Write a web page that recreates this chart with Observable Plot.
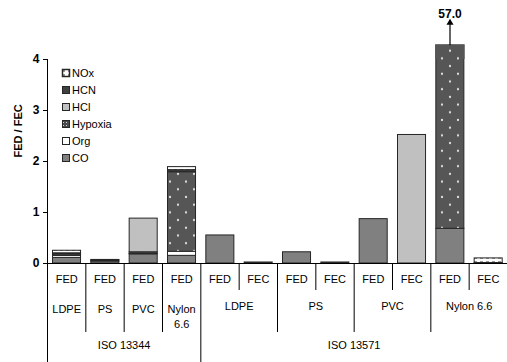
<!DOCTYPE html>
<html><head><meta charset="utf-8">
<script src="https://cdn.jsdelivr.net/npm/d3@7"></script>
<script src="https://cdn.jsdelivr.net/npm/@observablehq/plot@0.6"></script>
<style>
html,body{margin:0;padding:0;background:#fff;}
#chart{position:relative;width:507px;height:362px;}
</style></head><body><div id="chart"></div>
<script>
// ---- data ----
const standard = ["ISO 13344","ISO 13344","ISO 13344","ISO 13344","ISO 13571","ISO 13571","ISO 13571","ISO 13571","ISO 13571","ISO 13571","ISO 13571","ISO 13571"];
const material = ["LDPE","PS","PVC","Nylon 6.6","LDPE","LDPE","PS","PS","PVC","PVC","Nylon 6.6","Nylon 6.6"];
const measure  = ["FED","FED","FED","FED","FED","FEC","FED","FEC","FED","FEC","FED","FEC"];
const componentNames = ["CO","Org","Hypoxia","HCl","HCN","NOx"]; // stacking order, bottom -> top
const legendOrder = ["NOx","HCN","HCl","Hypoxia","Org","CO"];
const CO      = [0.11, 0.04, 0.18, 0.15, 0.55, 0,    0.22, 0,    0.87, 0,    0.68,  0];
const Org     = [0.04, 0,    0.01, 0.08, 0,    0.02, 0,    0.02, 0,    0,    0,     0];
const Hypoxia = [0.03, 0.02, 0.03, 1.56, 0,    0,    0,    0,    0,    0,    56.32, 0];
const HCl     = [0,    0,    0.66, 0,    0,    0,    0,    0,    0,    2.52, 0,     0];
const HCN     = [0.02, 0.01, 0,    0.04, 0,    0,    0,    0,    0,    0,    0,     0.01];
const NOx     = [0.05, 0,    0,    0.06, 0,    0,    0,    0,    0,    0,    0,     0.09];
const yTicks = [0, 1, 2, 3, 4];
const axisMax = 4;          // top of the y axis
const breakTop = 4.27;      // where the off-scale bar is cut
const offScaleLabel = "57.0";
const yLabel = "FED / FEC";

// ---- styling ----
const fills = {CO: "#808080", Org: "#ffffff", Hypoxia: "url(#pat-hyp)", HCl: "#c0c0c0", HCN: "#404040", NOx: "url(#pat-nox)"};
const font = "'Liberation Sans', Arial, sans-serif";
const W = 507, H = 362, mTop = 59, mBottom = 99, mLeft = 47, mRight = 0;
const frameH = H - mTop - mBottom;

// ---- derived tables ----
const series = {CO, Org, Hypoxia, HCl, HCN, NOx};
const cols = measure.map((m, i) => ({i, measure: m, material: material[i], standard: standard[i]}));
const rows = [];
const offScale = [];
cols.forEach(({i}) => {
  let cum = 0;
  componentNames.forEach(c => {
    const v = series[c][i];
    if (!v) return;
    const shown = Math.max(0, Math.min(v, breakTop - cum));
    cum += v;
    if (shown > 0) rows.push({i, comp: c, v: shown, fill: fills[c]});
  });
  if (cum > axisMax) offScale.push({i, total: cum});
});
const groups = [];
cols.forEach(c => {
  const g = groups[groups.length - 1];
  if (g && g.material === c.material && g.standard === c.standard) g.end = c.i + 1;
  else groups.push({material: c.material, standard: c.standard, start: c.i, end: c.i + 1});
});
const stdGroups = [];
cols.forEach(c => {
  const g = stdGroups[stdGroups.length - 1];
  if (g && g.standard === c.standard) g.end = c.i + 1;
  else stdGroups.push({standard: c.standard, start: c.i, end: c.i + 1});
});
const measureSeps = cols.filter(c => c.i > 0 && !groups.some(g => g.start === c.i)).map(c => c.i);
const materialSeps = groups.filter(g => g.start > 0 && !stdGroups.some(s => s.start === g.start)).map(g => g.start);
const stdSeps = stdGroups.map(s => s.start);

const svg = Plot.plot({
  width: W, height: H,
  marginTop: mTop, marginBottom: mBottom, marginLeft: mLeft, marginRight: mRight,
  style: {fontFamily: font, fontSize: "11px", color: "#000", background: "#fff", overflow: "visible"},
  x: {type: "linear", domain: [0, cols.length], axis: null},
  y: {domain: [0, axisMax], axis: null},
  color: {type: "identity"},
  marks: [
    Plot.rectY(rows, Plot.stackY({x1: d => d.i, x2: d => d.i + 1, y: "v", z: "comp", fill: "fill", stroke: "#262626", strokeWidth: 1, insetLeft: 5.5, insetRight: 4.8})),
    Plot.rectY(offScale, {x1: d => d.i, x2: d => d.i + 1, y1: axisMax, y2: breakTop, fill: fills.Hypoxia, insetLeft: 4.8, insetRight: 4.1, insetTop: -1}),
    Plot.ruleX(offScale, {x: d => d.i + 0.5, y1: breakTop, y2: breakTop + 0.45, stroke: "#000", strokeWidth: 1.2}),
    Plot.dot(offScale, {x: d => d.i + 0.5, y: breakTop, dy: -23, symbol: "triangle", r: 2.6, fill: "#000", stroke: null}),
    Plot.text(offScale, {x: d => d.i + 0.5, y: breakTop, dy: -32, text: () => offScaleLabel, fontWeight: "bold", fontSize: 12}),
    Plot.ruleY([0], {stroke: "#000"}),
    Plot.ruleX([0], {stroke: "#000", insetBottom: -mBottom}),
    Plot.axisY({ticks: yTicks, tickSize: 4, tickPadding: 4, fontWeight: "bold", fontSize: 12, label: null, tickFormat: d => d}),
    Plot.text([yLabel], {frameAnchor: "left", rotate: -90, dx: -29, dy: -4, text: d => d, fontWeight: "bold"}),
    Plot.ruleX(measureSeps, {x: d => d, stroke: "#000", insetTop: frameH, insetBottom: -27}),
    Plot.ruleX(materialSeps, {x: d => d, stroke: "#000", insetTop: frameH, insetBottom: -69}),
    Plot.ruleX(stdSeps.filter(d => d > 0), {x: d => d, stroke: "#000", insetTop: frameH, insetBottom: -mBottom}),
    Plot.text(cols, {x: d => d.i + 0.5, text: "measure", frameAnchor: "bottom", dy: 19}),
    Plot.text(groups.filter(g => g.end - g.start === 1), {x: d => (d.start + d.end) / 2, text: "material", frameAnchor: "bottom", dy: 39, lineAnchor: "top", lineWidth: 3.6, lineHeight: 1.36}),
    Plot.text(groups.filter(g => g.end - g.start > 1), {x: d => (d.start + d.end) / 2, text: "material", frameAnchor: "bottom", dy: 39, lineAnchor: "top"}),
    Plot.text(stdGroups, {x: d => (d.start + d.end) / 2, text: "standard", frameAnchor: "bottom", dy: 85})
  ]
});

// patterns
const defs = d3.select(svg).insert("defs", ":first-child");
const ph = defs.append("pattern").attr("id", "pat-hyp").attr("patternUnits", "userSpaceOnUse")
  .attr("width", 16).attr("height", 15.4).attr("x", 442).attr("y", 43);
ph.append("rect").attr("width", 16).attr("height", 15.4).attr("fill", "#565656");
[[0,0],[16,0],[0,15.4],[16,15.4],[8,7.7]].forEach(([cx, cy]) => ph.append("circle").attr("cx", cx).attr("cy", cy).attr("r", 1.1).attr("fill", "#e8e8e8"));
const phs = defs.append("pattern").attr("id", "pat-hyp-s").attr("patternUnits", "userSpaceOnUse").attr("width", 3).attr("height", 3);
phs.append("rect").attr("width", 3).attr("height", 3).attr("fill", "#4a4a4a");
phs.append("rect").attr("x", 1).attr("y", 1).attr("width", 1).attr("height", 1).attr("fill", "#d0d0d0");
const pn = defs.append("pattern").attr("id", "pat-nox").attr("patternUnits", "userSpaceOnUse").attr("width", 6).attr("height", 4);
pn.append("rect").attr("width", 6).attr("height", 4).attr("fill", "#fff");
pn.append("rect").attr("x", 0).attr("y", 1.5).attr("width", 3).attr("height", 1).attr("fill", "#333");

// legend
const lg = d3.select(svg).append("g").attr("font-family", font).attr("font-size", 11).attr("fill", "#000").attr("text-anchor", "start");
legendOrder.forEach((c, k) => {
  const g = lg.append("g").attr("transform", `translate(62,${73 + k * 17})`);
  g.append("rect").attr("x", 0.5).attr("y", -3.5).attr("width", 7).attr("height", 7)
    .attr("fill", c === "Hypoxia" ? "url(#pat-hyp-s)" : fills[c])
    .attr("stroke", "#262626").attr("stroke-width", c === "NOx" ? 1.5 : 1);
  g.append("text").attr("x", 10).attr("dy", "0.35em").attr("text-anchor", "start").text(c);
});

document.getElementById("chart").appendChild(svg);
</script></body></html>
